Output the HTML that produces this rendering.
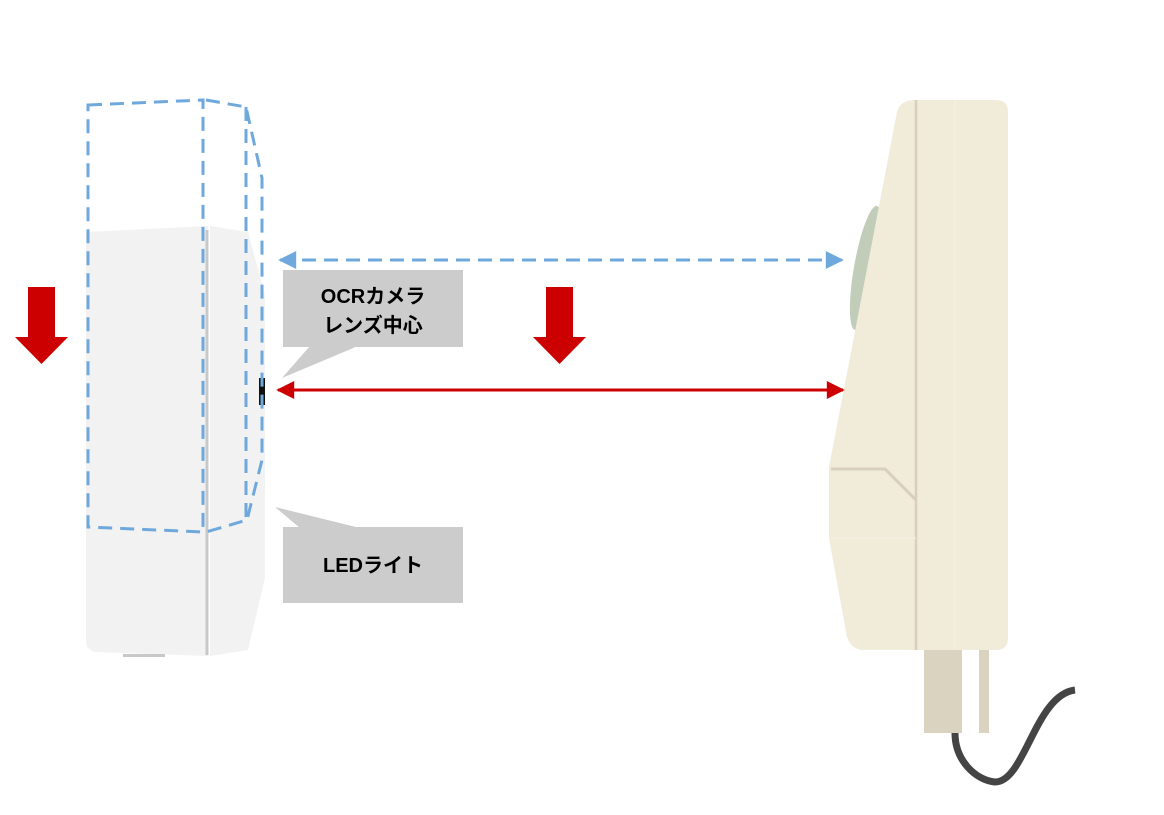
<!DOCTYPE html>
<html><head><meta charset="utf-8"><style>
html,body{margin:0;padding:0;background:#fff;}
svg{display:block;}
text{font-family:"Liberation Sans","Noto Sans CJK JP",sans-serif;font-weight:bold;}
</style></head><body>
<svg width="1164" height="815" viewBox="0 0 1164 815" xmlns="http://www.w3.org/2000/svg">
<defs>
<marker id="bh" viewBox="0 0 10 10" refX="9" refY="5" markerWidth="8" markerHeight="6" orient="auto-start-reverse" markerUnits="strokeWidth"><path d="M0,0 L10,5 L0,10 z" fill="#6fa8dc"/></marker>
<marker id="rh" viewBox="0 0 10 10" refX="9" refY="5" markerWidth="9" markerHeight="6" orient="auto-start-reverse" markerUnits="strokeWidth"><path d="M0,0 L10,5 L0,10 z" fill="#cc0000"/></marker>
</defs>

<!-- right device (meter) -->
<g>
<rect x="924" y="645" width="38" height="88" fill="#d9d3c0"/>
<rect x="979" y="645" width="10" height="88" fill="#d9d3c0"/>
<path d="M955,733 C955,760 975,780 995,782 C1025,782 1035,695 1075,690" stroke="#444" stroke-width="7" fill="none"/>
<ellipse cx="866" cy="268" rx="12" ry="63" transform="rotate(10 866 268)" fill="#c1cdb9"/>
<path d="M897,112 Q900,100 915,100 L996,100 Q1008,100 1008,112 L1008,638 Q1008,650 996,650 L862,650 Q848,648 846,632 L829,538 L829,467 Z" fill="#f1ebda"/>
<line x1="916" y1="100" x2="916" y2="650" stroke="#d8d0bc" stroke-width="2.5"/>
<line x1="955" y1="100" x2="955" y2="650" stroke="#f6f2e6" stroke-width="1"/>
<path d="M831,469 L885,469 L916,500" stroke="#d8d0bc" stroke-width="3" fill="none"/>
<line x1="829" y1="538" x2="916" y2="538" stroke="#f6f2e6" stroke-width="1"/>
</g>

<!-- left device (camera unit) -->
<g>
<path d="M86,232 L208,226 L208,656 L96,652 Q86,651 86,640 Z" fill="#f2f2f2"/>
<path d="M210,226 L248,232 L265,295 L265,578 L248,650 L210,656 Z" fill="#f2f2f2"/>
<line x1="207" y1="230" x2="207" y2="655" stroke="#c8c8c8" stroke-width="3"/>
<rect x="123" y="654" width="42" height="3" fill="#c8c8c8"/>
<rect x="259" y="378" width="6" height="27" fill="#111"/>
<g fill="none" stroke="#6fa8dc" stroke-width="3" stroke-dasharray="14 8">
<path d="M88,105 L203,100 L203,532 L88,527 Z"/>
<path d="M206,100 L246,107 L262,178 L262,460 L247,520 L206,532"/>
<line x1="246" y1="107" x2="246" y2="525"/>
</g>
</g>

<!-- distance arrows -->
<line x1="280" y1="260" x2="842" y2="260" stroke="#6fa8dc" stroke-width="3" stroke-dasharray="14 8" marker-start="url(#bh)" marker-end="url(#bh)"/>
<line x1="278" y1="390" x2="843" y2="390" stroke="#cc0000" stroke-width="3" marker-start="url(#rh)" marker-end="url(#rh)"/>

<!-- red down arrows -->
<path d="M28,287 L55,287 L55,337 L68,337 L41.5,364 L15,337 L28,337 Z" fill="#cc0000"/>
<path d="M546,287 L573,287 L573,337 L586,337 L559.5,364 L533,337 L546,337 Z" fill="#cc0000"/>

<!-- callouts -->
<g>
<rect x="283" y="270" width="180" height="77" fill="#cccccc"/>
<path d="M310,346 L358,346 L282,378 Z" fill="#cccccc"/>
<text x="373" y="303" font-size="20" text-anchor="middle">OCRカメラ</text>
<text x="373" y="332" font-size="20" text-anchor="middle">レンズ中心</text>
</g>
<g>
<rect x="283" y="527" width="180" height="76" fill="#cccccc"/>
<path d="M275,507 L360,528 L300,528 Z" fill="#cccccc"/>
<text x="373" y="572" font-size="20" text-anchor="middle">LEDライト</text>
</g>
</svg>
</body></html>
